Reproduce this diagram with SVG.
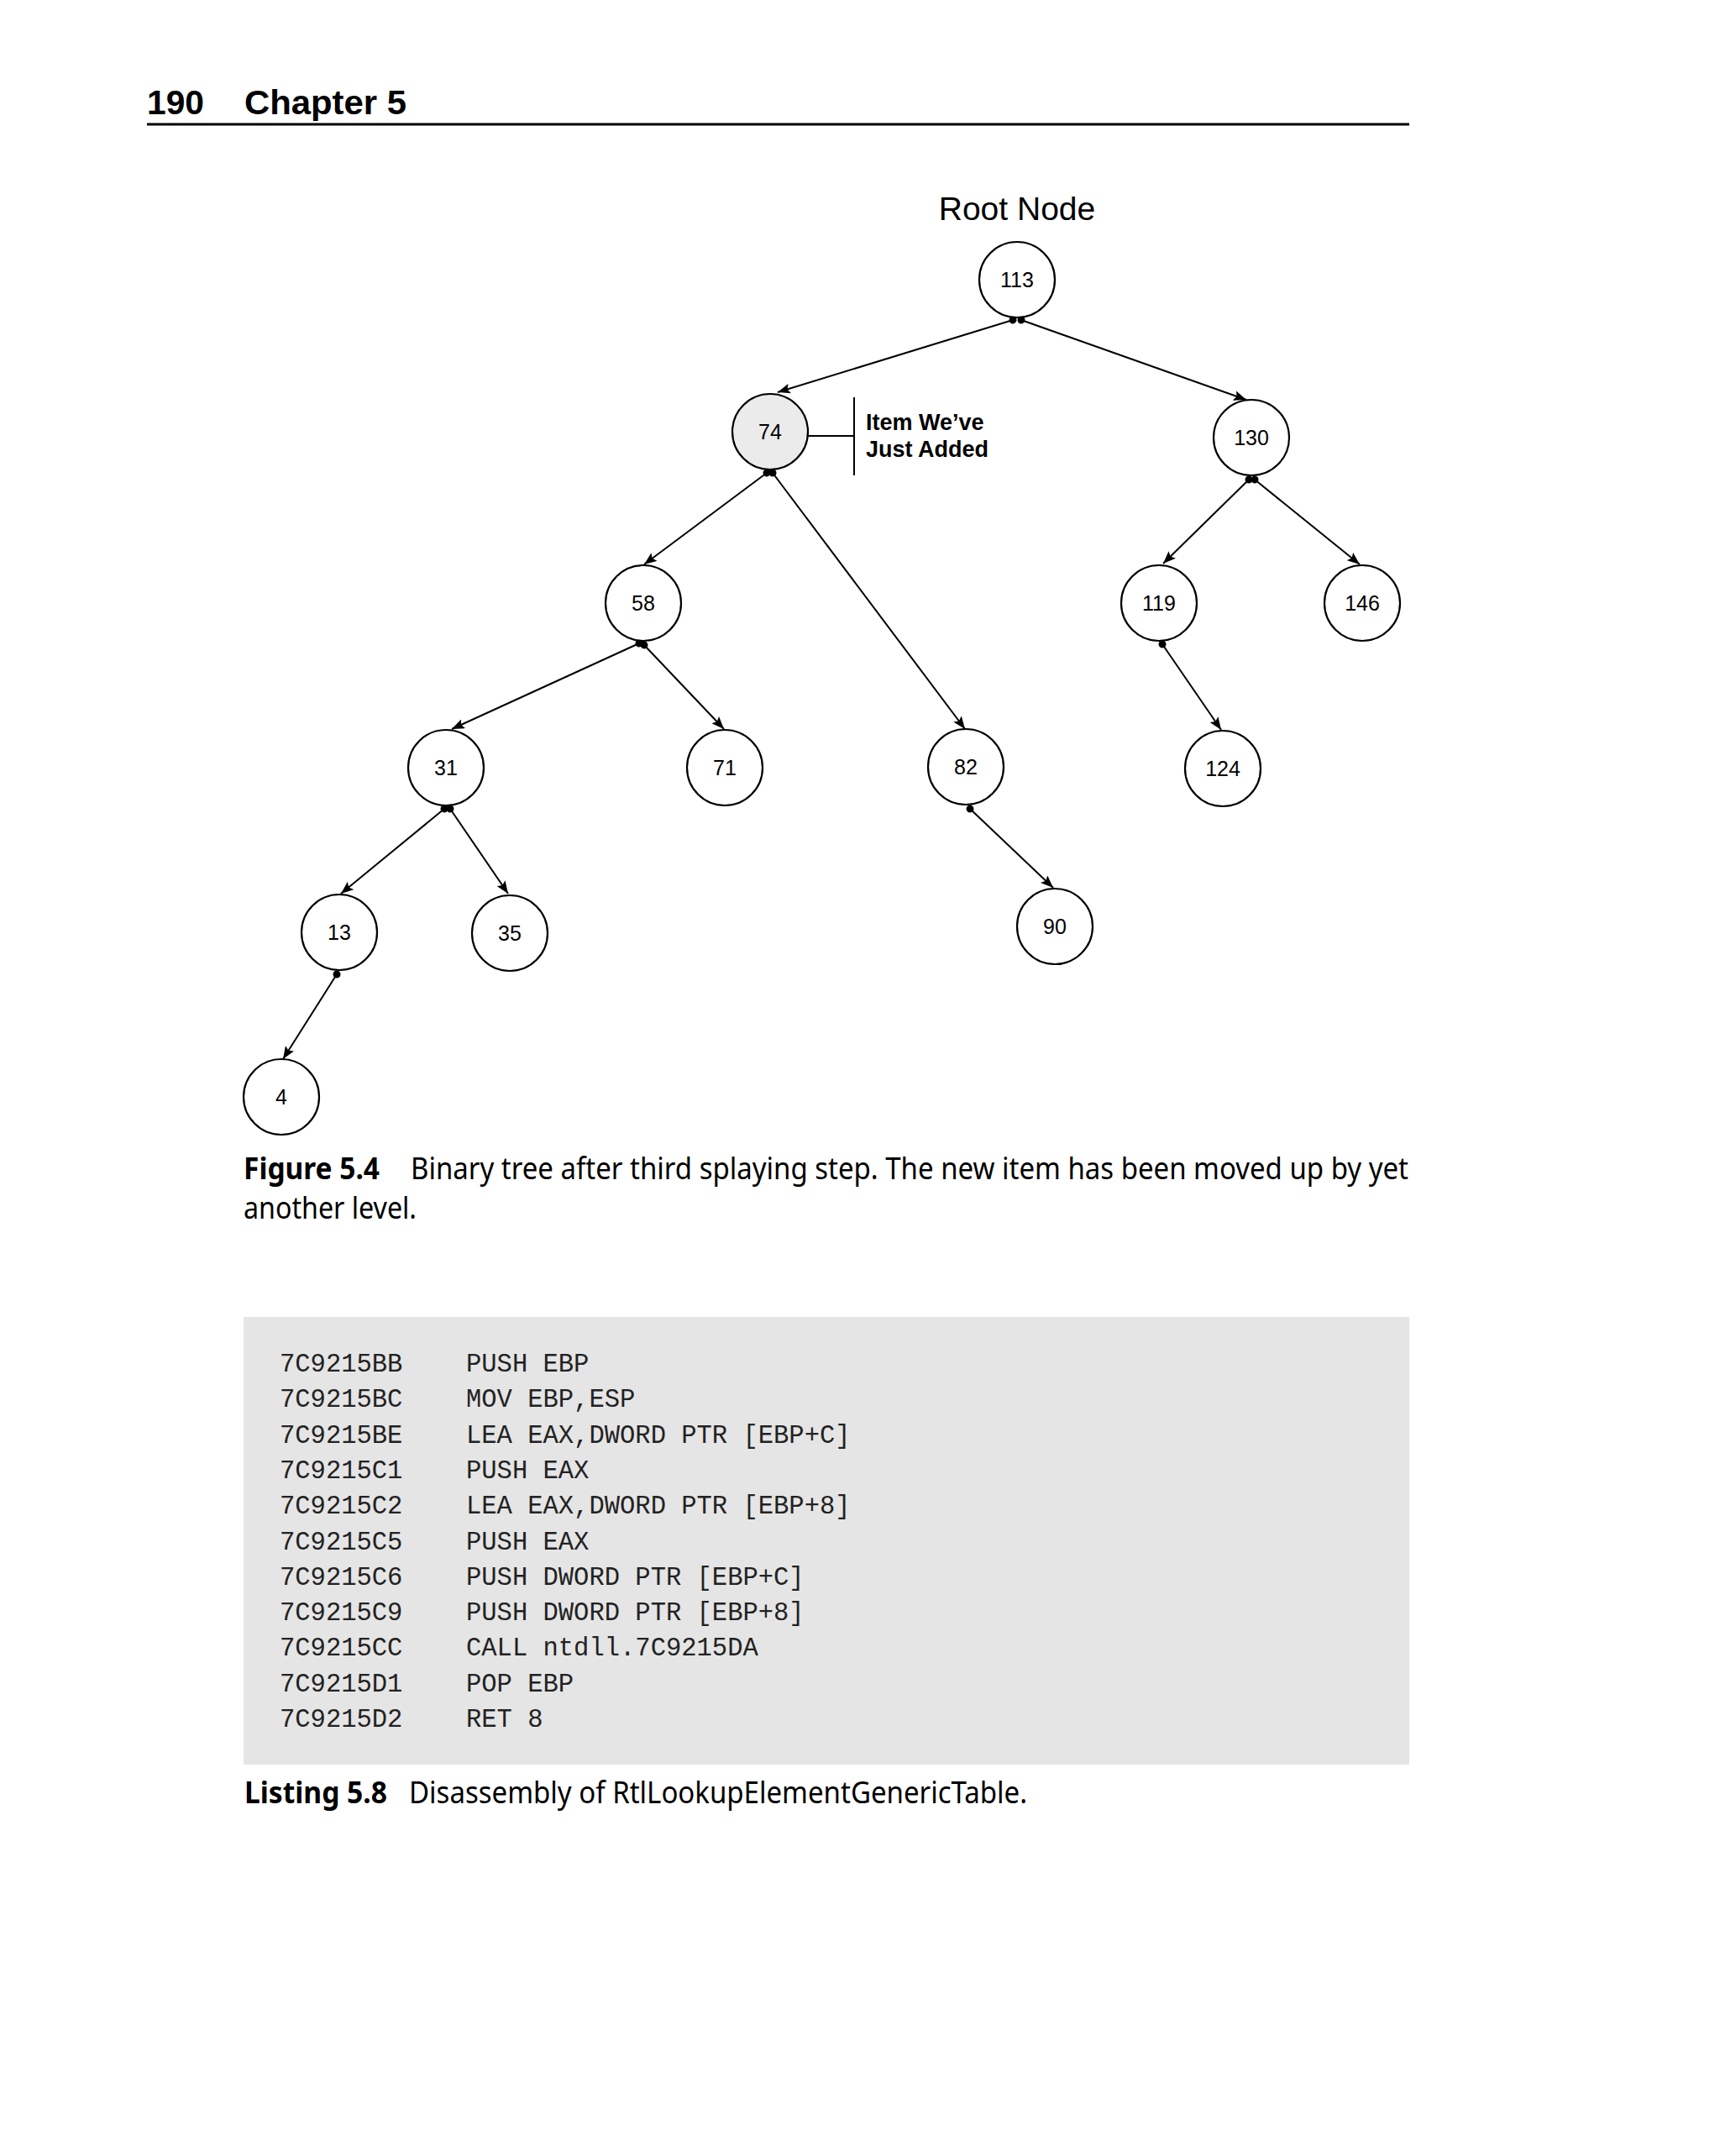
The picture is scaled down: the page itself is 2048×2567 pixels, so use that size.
<svg xmlns="http://www.w3.org/2000/svg" width="2048" height="2567" viewBox="0 0 2048 2567">
<defs>
<style>
.node circle{fill:#fff;stroke:#000;stroke-width:2.2}
.node text{font-family:"Liberation Sans",Arial,sans-serif;font-size:25px;text-anchor:middle;fill:#000}
.edge{stroke:#000;stroke-width:2;fill:none;marker-start:url(#dot);marker-end:url(#arrow)}
.code{font-family:"Liberation Mono","Courier New",monospace;font-size:30.5px;fill:#222}
.cap{font-family:"Noto Sans","Liberation Sans",sans-serif;font-size:36px;fill:#000}
.capb{font-family:"Noto Sans","Liberation Sans",sans-serif;font-size:36px;font-weight:bold;fill:#000}
</style>
<marker id="arrow" markerUnits="userSpaceOnUse" markerWidth="16" markerHeight="12" viewBox="0 0 16 12" refX="15" refY="6" orient="auto">
<path d="M0,0 L15,6 L0,12 L3,6 z" fill="#000"/>
</marker>
<marker id="dot" markerUnits="userSpaceOnUse" markerWidth="10" markerHeight="10" viewBox="0 0 10 10" refX="5" refY="5" orient="auto">
<circle cx="5" cy="5" r="4.5" fill="#000"/>
</marker>
</defs>
<rect width="2048" height="2567" fill="#fff"/>
<g id="header">
<text x="175" y="136" font-family="Liberation Sans,Arial,sans-serif" font-weight="bold" font-size="40" textLength="68" lengthAdjust="spacingAndGlyphs">190</text>
<text x="291" y="136" font-family="Liberation Sans,Arial,sans-serif" font-weight="bold" font-size="40" textLength="193" lengthAdjust="spacingAndGlyphs">Chapter 5</text>
<line x1="175" y1="148" x2="1678" y2="148" stroke="#000" stroke-width="3"/>
</g>
<text id="root-label" x="1211" y="262" font-family="Liberation Sans,Arial,sans-serif" font-size="39" text-anchor="middle">Root Node</text>
<g id="connectors">
<line class="edge" x1="1206" y1="381" x2="926" y2="467"/>
<line class="edge" x1="1216" y1="381" x2="1484" y2="476"/>
<line class="edge" x1="913" y1="563" x2="767" y2="672"/>
<line class="edge" x1="920" y1="563" x2="1149" y2="868"/>
<line class="edge" x1="1487" y1="571" x2="1385" y2="671"/>
<line class="edge" x1="1494" y1="571" x2="1619" y2="672"/>
<line class="edge" x1="761" y1="766" x2="538" y2="868"/>
<line class="edge" x1="767" y1="768" x2="862" y2="868"/>
<line class="edge" x1="1384" y1="767" x2="1454" y2="869"/>
<line class="edge" x1="1155" y1="963" x2="1254" y2="1057"/>
<line class="edge" x1="529" y1="963" x2="406" y2="1064"/>
<line class="edge" x1="536" y1="963" x2="605" y2="1064"/>
<line class="edge" x1="401" y1="1160" x2="337" y2="1261"/>
</g>
<g id="n113" class="node"><circle cx="1211" cy="333" r="45"/><text x="1211" y="342">113</text></g>
<g id="n74" class="node"><circle cx="917" cy="514" r="45" style="fill:#ebebeb"/><text x="917" y="523">74</text></g>
<g id="n130" class="node"><circle cx="1490" cy="521" r="45"/><text x="1490" y="530">130</text></g>
<g id="n58" class="node"><circle cx="766" cy="718" r="45"/><text x="766" y="727">58</text></g>
<g id="n119" class="node"><circle cx="1380" cy="718" r="45"/><text x="1380" y="727">119</text></g>
<g id="n146" class="node"><circle cx="1622" cy="718" r="45"/><text x="1622" y="727">146</text></g>
<g id="n31" class="node"><circle cx="531" cy="914" r="45"/><text x="531" y="923">31</text></g>
<g id="n71" class="node"><circle cx="863" cy="914" r="45"/><text x="863" y="923">71</text></g>
<g id="n82" class="node"><circle cx="1150" cy="913" r="45"/><text x="1150" y="922">82</text></g>
<g id="n124" class="node"><circle cx="1456" cy="915" r="45"/><text x="1456" y="924">124</text></g>
<g id="n13" class="node"><circle cx="404" cy="1110" r="45"/><text x="404" y="1119">13</text></g>
<g id="n35" class="node"><circle cx="607" cy="1111" r="45"/><text x="607" y="1120">35</text></g>
<g id="n90" class="node"><circle cx="1256" cy="1103" r="45"/><text x="1256" y="1112">90</text></g>
<g id="n4" class="node"><circle cx="335" cy="1306" r="45"/><text x="335" y="1315">4</text></g>
<g id="callout">
<line x1="962" y1="519" x2="1017" y2="519" stroke="#000" stroke-width="2"/>
<line x1="1017" y1="473" x2="1017" y2="566" stroke="#000" stroke-width="2"/>
<text font-family="Liberation Sans,Arial,sans-serif" font-weight="bold" font-size="27">
<tspan x="1031" y="512">Item We’ve</tspan>
<tspan x="1031" y="544">Just Added</tspan>
</text>
</g>
<g id="figure-caption">
<text class="capb" x="290" y="1404" textLength="162" lengthAdjust="spacingAndGlyphs">Figure 5.4</text>
<text class="cap" x="489" y="1404" textLength="1188" lengthAdjust="spacingAndGlyphs">Binary tree after third splaying step. The new item has been moved up by yet</text>
<text class="cap" x="290" y="1451" textLength="206" lengthAdjust="spacingAndGlyphs">another level.</text>
</g>
<g id="listing">
<rect x="290" y="1568" width="1388" height="533" fill="#e5e5e5"/>
<g class="code">
<text x="333" y="1633">7C9215BB</text><text x="555" y="1633">PUSH EBP</text>
<text x="333" y="1675">7C9215BC</text><text x="555" y="1675">MOV EBP,ESP</text>
<text x="333" y="1718">7C9215BE</text><text x="555" y="1718">LEA EAX,DWORD PTR [EBP+C]</text>
<text x="333" y="1760">7C9215C1</text><text x="555" y="1760">PUSH EAX</text>
<text x="333" y="1802">7C9215C2</text><text x="555" y="1802">LEA EAX,DWORD PTR [EBP+8]</text>
<text x="333" y="1845">7C9215C5</text><text x="555" y="1845">PUSH EAX</text>
<text x="333" y="1887">7C9215C6</text><text x="555" y="1887">PUSH DWORD PTR [EBP+C]</text>
<text x="333" y="1929">7C9215C9</text><text x="555" y="1929">PUSH DWORD PTR [EBP+8]</text>
<text x="333" y="1971">7C9215CC</text><text x="555" y="1971">CALL ntdll.7C9215DA</text>
<text x="333" y="2014">7C9215D1</text><text x="555" y="2014">POP EBP</text>
<text x="333" y="2056">7C9215D2</text><text x="555" y="2056">RET 8</text>
</g>
</g>
<g id="listing-caption">
<text class="capb" x="291" y="2147" textLength="170" lengthAdjust="spacingAndGlyphs">Listing 5.8</text>
<text class="cap" x="487" y="2147" textLength="736" lengthAdjust="spacingAndGlyphs">Disassembly of RtlLookupElementGenericTable.</text>
</g>
</svg>
